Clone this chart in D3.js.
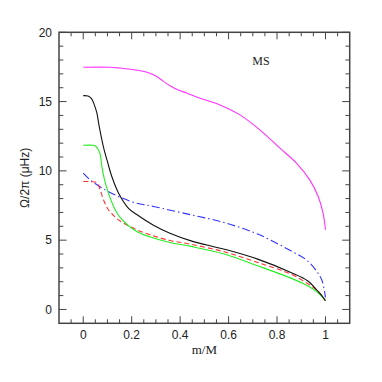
<!DOCTYPE html>
<html>
<head>
<meta charset="utf-8">
<script src="https://cdn.jsdelivr.net/npm/d3@7"></script>
<style>
  body { margin: 0; background: #fff; }
  svg { display: block; }
</style>
</head>
<body>
<div class="chart"></div>
<script>
// curve data (x = m/M, y = Omega/2pi in microHz)
const blackX = [0, 0.02, 0.035, 0.045, 0.056, 0.065, 0.077, 0.088, 0.098, 0.118, 0.146, 0.187, 0.221, 0.29, 0.358, 0.445, 0.582, 0.72, 0.857, 0.926, 0.967, 0.985, 1.0];
const blackY = [15.43, 15.4, 15.2, 14.8, 14.2, 13.3, 12.24, 11.4, 10.79, 9.59, 8.39, 7.3, 6.85, 6.08, 5.5, 4.95, 4.35, 3.63, 2.67, 2.07, 1.35, 1.0, 0.63];

const greenX = [0, 0.04, 0.05, 0.06, 0.07, 0.077, 0.088, 0.104, 0.132, 0.152, 0.221, 0.29, 0.358, 0.445, 0.582, 0.72, 0.857, 0.926, 0.967, 1.0];
const greenY = [11.85, 11.85, 11.8, 11.6, 11.2, 10.3, 9.35, 8.39, 7.19, 6.65, 5.62, 5.15, 4.83, 4.55, 4.0, 3.15, 2.26, 1.71, 1.23, 0.63];

const redX = [0, 0.03, 0.056, 0.07, 0.084, 0.104, 0.13, 0.152, 0.221, 0.29, 0.358, 0.445, 0.582, 0.72, 0.857, 0.926, 0.967, 1.0];
const redY = [9.23, 9.22, 9.15, 8.63, 7.9, 7.19, 6.7, 6.38, 5.75, 5.31, 4.98, 4.7, 4.16, 3.39, 2.55, 1.87, 1.35, 0.63];

const blueX = [0, 0.029, 0.09, 0.152, 0.214, 0.29, 0.445, 0.582, 0.72, 0.857, 0.926, 0.967, 0.986, 1.0];
const blueY = [9.83, 9.35, 8.63, 8.1, 7.7, 7.43, 6.83, 6.27, 5.44, 4.23, 3.51, 2.67, 2.07, 0.87];

const magentaX = [0, 0.11, 0.152, 0.21, 0.27, 0.30, 0.33, 0.36, 0.39, 0.427, 0.482, 0.564, 0.647, 0.729, 0.812, 0.88, 0.935, 0.97, 0.99, 1.0];
const magentaY = [17.48, 17.48, 17.42, 17.3, 17.08, 16.85, 16.48, 16.12, 15.85, 15.62, 15.24, 14.76, 14.04, 12.96, 11.64, 10.56, 9.35, 8.15, 6.95, 5.75];

const xTickLabels = [0, 0.2, 0.4, 0.6, 0.8, 1];
const yTickLabels = [0, 5, 10, 15, 20];

const series = [
    {x: magentaX, y: magentaY, color: "#ff33ff", dash: null},
    {x: blueX, y: blueY, color: "#3333ff", dash: "8,3,1.5,3"},
    {x: redX, y: redY, color: "#ff3333", dash: "5,3"},
    {x: greenX, y: greenY, color: "#22ee22", dash: null},
    {x: blackX, y: blackY, color: "#111111", dash: null}
];

const W = 382, H = 382;
const margin = {top: 32.3, right: 32.3, bottom: 58.7, left: 59};
const width = W - margin.left - margin.right;
const height = H - margin.top - margin.bottom;

const svg = d3.select(".chart").append("svg")
    .attr("width", W)
    .attr("height", H);

const g = svg.append("g")
    .attr("transform", `translate(${margin.left},${margin.top})`);

const xScale = d3.scaleLinear().domain([-0.1, 1.1]).range([0, width]);
const yScale = d3.scaleLinear().domain([-1, 20]).range([height, 0]);

// curves
const line = d3.line()
    .x(d => xScale(d[0]))
    .y(d => yScale(d[1]))
    .curve(d3.curveCatmullRom.alpha(0.5));

series.forEach(s => {
    const pts = s.x.map((v, i) => [v, s.y[i]]);
    g.append("path")
        .datum(pts)
        .attr("fill", "none")
        .attr("stroke", s.color)
        .attr("stroke-width", 1.1)
        .attr("stroke-dasharray", s.dash)
        .attr("d", line);
});

// ticks pointing inward on all four sides
const xMinor = d3.range(-0.05, 1.1, 0.05);
const yMinor = d3.range(0, 20.01, 1);
const isMajorX = v => Math.abs(v / 0.2 - Math.round(v / 0.2)) < 1e-6;
const isMajorY = v => v % 5 === 0;
const tickColor = "#444";

xMinor.forEach(v => {
    const len = isMajorX(v) ? 7 : 4;
    const x = xScale(v);
    g.append("line").attr("x1", x).attr("x2", x).attr("y1", height).attr("y2", height - len)
        .attr("stroke", tickColor).attr("stroke-width", 1);
    g.append("line").attr("x1", x).attr("x2", x).attr("y1", 0).attr("y2", len)
        .attr("stroke", tickColor).attr("stroke-width", 1);
});
yMinor.forEach(v => {
    const len = isMajorY(v) ? 7.5 : 4.3;
    const y = yScale(v);
    g.append("line").attr("x1", 0).attr("x2", len).attr("y1", y).attr("y2", y)
        .attr("stroke", tickColor).attr("stroke-width", 1);
    g.append("line").attr("x1", width).attr("x2", width - len).attr("y1", y).attr("y2", y)
        .attr("stroke", tickColor).attr("stroke-width", 1);
});

// frame
g.append("rect")
    .attr("x", 0).attr("y", 0)
    .attr("width", width).attr("height", height)
    .attr("fill", "none")
    .attr("stroke", "#444")
    .attr("stroke-width", 1.5);

// tick labels
const labelFont = "Liberation Sans, Arial, sans-serif";
g.selectAll(".xlab").data(xTickLabels).enter().append("text")
    .attr("x", d => xScale(d))
    .attr("y", height + 16)
    .attr("text-anchor", "middle")
    .attr("font-family", labelFont)
    .attr("font-size", 12)
    .attr("fill", "#222")
    .text(d => d);

g.selectAll(".ylab").data(yTickLabels).enter().append("text")
    .attr("x", -7)
    .attr("y", d => yScale(d) + 4.3)
    .attr("text-anchor", "end")
    .attr("font-family", labelFont)
    .attr("font-size", 12)
    .attr("fill", "#222")
    .text(d => d);

// axis titles
svg.append("text")
    .attr("x", margin.left + width / 2)
    .attr("y", 354)
    .attr("text-anchor", "middle")
    .attr("font-family", "Liberation Serif, serif")
    .attr("font-size", 13)
    .attr("fill", "#222")
    .text("m/M");

svg.append("text")
    .attr("transform", `translate(29,${margin.top + height / 2}) rotate(-90)`)
    .attr("text-anchor", "middle")
    .attr("font-family", labelFont)
    .attr("font-size", 12)
    .attr("fill", "#222")
    .text("Ω/2π (μHz)");

svg.append("text")
    .attr("x", 261)
    .attr("y", 65)
    .attr("text-anchor", "middle")
    .attr("font-family", "Liberation Serif, serif")
    .attr("font-size", 12)
    .attr("fill", "#222")
    .text("MS");
</script>
</body>
</html>
